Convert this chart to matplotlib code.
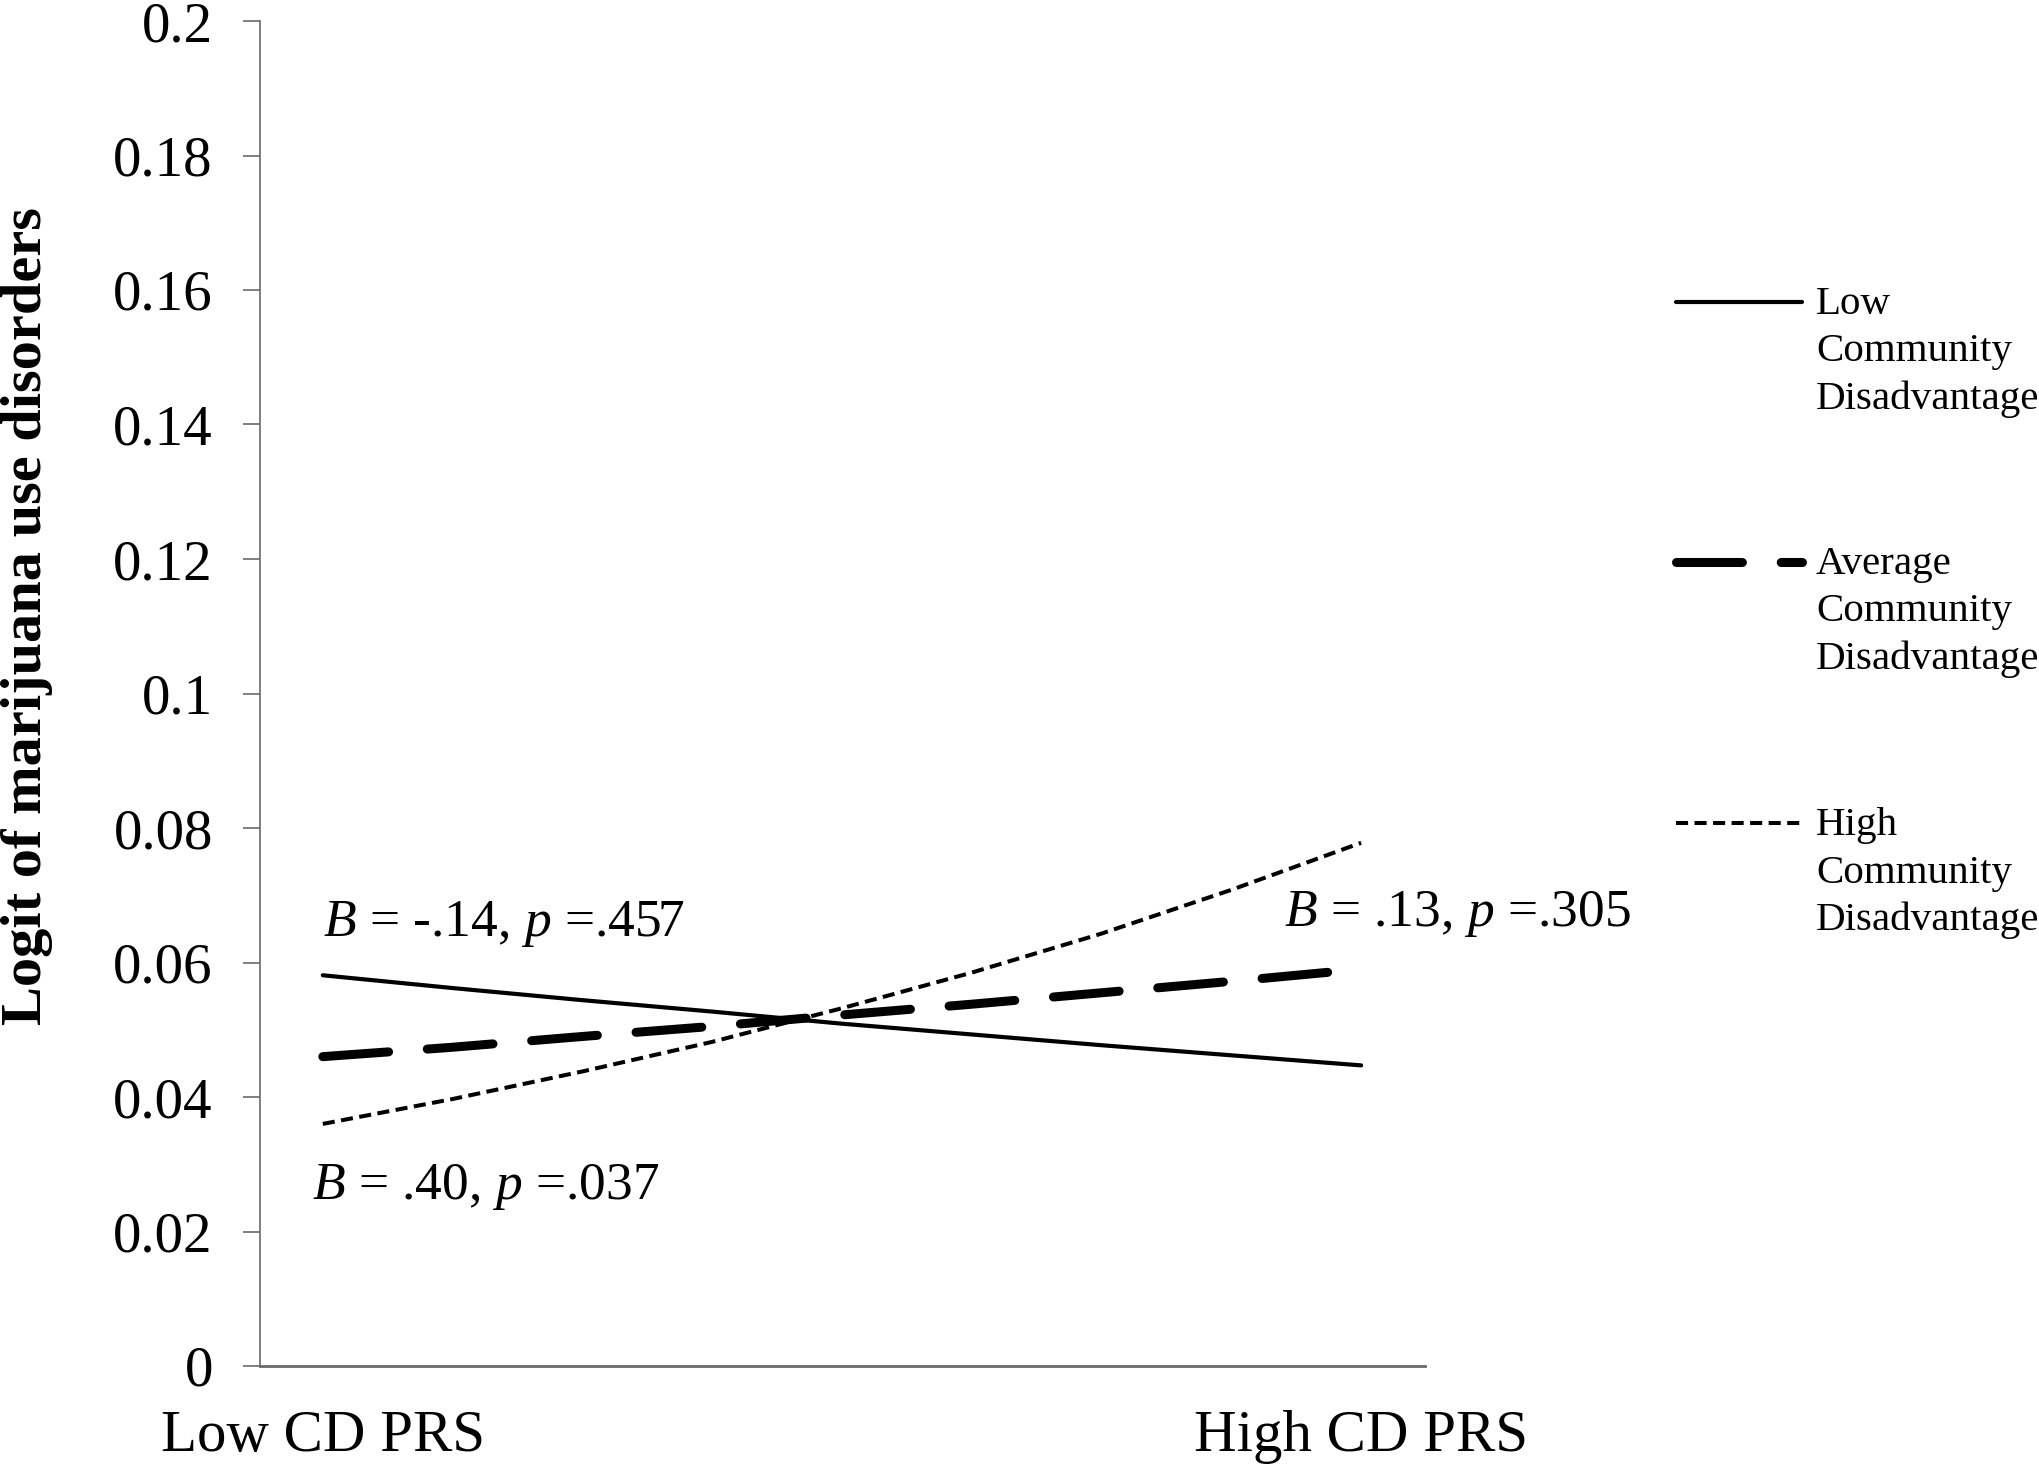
import matplotlib
matplotlib.use("Agg")
import matplotlib.pyplot as plt
from matplotlib.lines import Line2D

plt.rcParams['font.family'] = ['Liberation Serif', 'DejaVu Serif']
plt.rcParams['mathtext.fontset'] = 'custom'
plt.rcParams['mathtext.rm'] = 'Liberation Serif'
plt.rcParams['mathtext.it'] = 'Liberation Serif:italic'

# data, x = PRS level from low (-1) to high (+1)
prs = [-1.0, -0.75, -0.5, -0.25, 0.0, 0.25, 0.5, 0.75, 1.0]
low_cd = [0.0581, 0.0562, 0.0544, 0.0527, 0.0509, 0.0493, 0.0477, 0.0462, 0.0447]
avg_cd = [0.0460, 0.0474, 0.0490, 0.0505, 0.0522, 0.0538, 0.0555, 0.0572, 0.0590]
high_cd = [0.0360, 0.0397, 0.0438, 0.0482, 0.0532, 0.0585, 0.0643, 0.0708, 0.0778]

x_ticks = [-1.0, 1.0]
x_labels = ['Low CD PRS', 'High CD PRS']
y_ticks = [0, 0.02, 0.04, 0.06, 0.08, 0.1, 0.12, 0.14, 0.16, 0.18, 0.2]
y_labels = ['0', '0.02', '0.04', '0.06', '0.08', '0.1', '0.12', '0.14', '0.16', '0.18', '0.2']

legend_names = [['Low', 'Community', 'Disadvantage'],
                ['Average', 'Community', 'Disadvantage'],
                ['High', 'Community', 'Disadvantage']]

notes = [(-1.0, 0.0639, r'$B$ = -.14, $p$ =.457'),
         (-1.02, 0.0248, r'$B$ = .40, $p$ =.037'),
         (0.852, 0.0654, r'$B$ = .13, $p$ =.305')]

W, H = 2040, 1466
fig = plt.figure(figsize=(W / 100, H / 100), dpi=100, facecolor='white')
ax = fig.add_axes([260 / W, 1 - 1366 / H, (1425 - 260) / W, (1366 - 21) / H])

axis_grey = '#6a6a6a'
solid_style = dict(color='black', linewidth=3.0, solid_capstyle='round')
avg_style = dict(color='black', linewidth=6.5, dashes=(7.3, 4.3), dash_capstyle='round')
high_style = dict(color='black', linewidth=2.9, dashes=(3.0, 1.6))

ax.plot(prs, low_cd, **solid_style)
ax.plot(prs, avg_cd, **avg_style)
ax.plot(prs, high_cd, **high_style)

ax.set_xlim(-1.121, 1.123)
ax.set_ylim(0, 0.2)
ax.set_xticks(x_ticks)
ax.set_xticklabels(x_labels, fontsize=42.4)
ax.set_yticks(y_ticks)
ax.set_yticklabels(y_labels, fontsize=41)
ax.tick_params(axis='x', length=0, pad=32)
ax.tick_params(axis='y', direction='out', length=12, width=1.2, color=axis_grey, pad=22)

for side in ['top', 'right']:
    ax.spines[side].set_visible(False)
ax.spines['left'].set_color(axis_grey)
ax.spines['left'].set_linewidth(1.2)
ax.spines['bottom'].set_color(axis_grey)
ax.spines['bottom'].set_linewidth(2.0)

ax.set_ylabel('Logit of marijuana use disorders', fontsize=42, fontweight='bold')
ax.yaxis.set_label_coords(-0.178, 0.5576)

for nx, ny, txt in notes:
    ax.text(nx, ny, txt, fontsize=38.5, va='baseline', ha='left')

# legend drawn by hand so the key sits beside the first line of each label
styles = [solid_style, avg_style, high_style]
key_y = [302, 562, 823]
for name, st, ky in zip(legend_names, styles, key_y):
    yf = 1 - ky / H
    fig.add_artist(Line2D([1676 / W, 1802 / W], [yf, yf], transform=fig.transFigure, **st))
    for i, word in enumerate(name):
        base = ky + 12 + i * 47.5
        fig.text(1816 / W, 1 - base / H, word, fontsize=29.5, va='baseline', ha='left')

fig.savefig('out.png', dpi=100, facecolor='white')
